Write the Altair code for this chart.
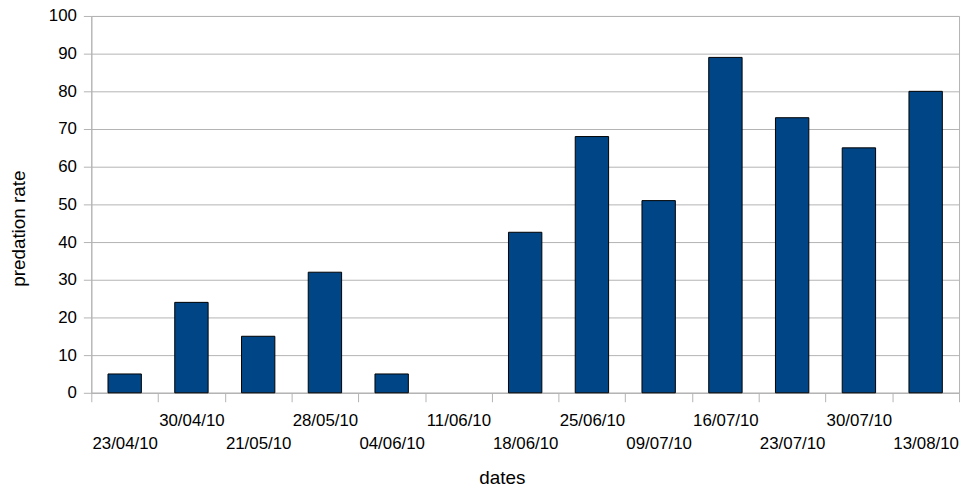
import altair as alt
import pandas as pd

dates = ["23/04/10", "30/04/10", "21/05/10", "28/05/10", "04/06/10", "11/06/10",
         "18/06/10", "25/06/10", "09/07/10", "16/07/10", "23/07/10", "30/07/10", "13/08/10"]
rates = [5, 24, 15, 32, 5, 0, 42.6, 68, 51, 89, 73, 65, 80]

df = pd.DataFrame({"dates": dates, "rate": rates})

arr = "[" + ",".join("'%s'" % d for d in dates) + "]"
lower_test = "indexof(%s, datum.value) %% 2 == 0" % arr

GRAY = "#b3b3b3"
FONT = "Liberation Sans"

chart = alt.Chart(df).transform_filter(
    "datum.rate > 0"
).mark_bar(
    fill="#004586", stroke="#000000", strokeWidth=1,
    width=alt.RelativeBandSize(0.5)
).encode(
    x=alt.X("dates:N", sort=dates,
            scale=alt.Scale(domain=dates, paddingInner=0, paddingOuter=0),
            axis=alt.Axis(
                title="dates", labelAngle=0, tickBand="extent",
                domainColor=GRAY, tickColor=GRAY, tickSize=9, grid=False,
                labelFont=FONT, labelFontSize=17, labelColor="#000000",
                labelBaseline="top", labelOverlap=False,
                labelPadding={"condition": {"test": lower_test, "value": 34}, "value": 11},
                titleFont=FONT, titleFontSize=19, titleFontWeight="normal",
                titleColor="#000000", titleX=414, titleY=91,
                titleAlign="center", titleBaseline="alphabetic")),
    y=alt.Y("rate:Q",
            scale=alt.Scale(domain=[0, 100], nice=False),
            axis=alt.Axis(
                title="predation rate", values=list(range(0, 101, 10)),
                domainColor=GRAY, tickColor=GRAY, tickSize=8, gridColor=GRAY,
                gridOpacity=1, labelPadding=7,
                labelFont=FONT, labelFontSize=17, labelColor="#000000",
                titleFont=FONT, titleFontSize=19, titleFontWeight="normal",
                titleColor="#000000", titleX=-73, titleY=214,
                titleAlign="center", titleBaseline="middle", titleAngle=-90))
).properties(
    width=875, height=380,
    autosize=alt.AutoSizeParams(type="none"),
    padding={"left": 84, "top": 6, "right": 3, "bottom": 98}
).configure_view(stroke=GRAY, strokeWidth=1)

chart.save("out.html", embed_options={"renderer": "svg", "actions": False})
